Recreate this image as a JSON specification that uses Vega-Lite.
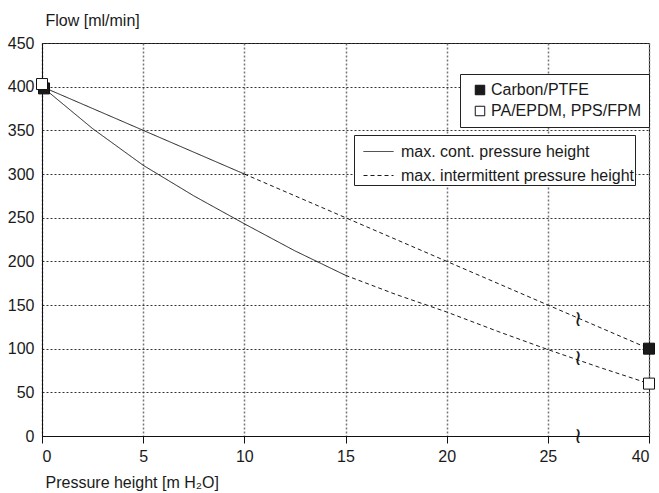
{
  "$schema": "https://vega.github.io/schema/vega-lite/v6.json",
  "width": 607,
  "height": 393,
  "autosize": {"type": "none"},
  "padding": {"left": 42, "top": 43, "right": 10, "bottom": 57},
  "background": "white",
  "config": {
    "view": {"stroke": "#111", "strokeWidth": 1},
    "font": "Liberation Sans",
    "text": {"font": "Liberation Sans"},
    "axis": {"labelFont": "Liberation Sans", "titleFont": "Liberation Sans", "labelColor": "#1a1a1a", "titleColor": "#1a1a1a", "titleFontWeight": "normal"},
    "legend": {"labelFont": "Liberation Sans", "labelColor": "#1a1a1a", "labelLimit": 0}
  },
  "layer": [
    {
      "mark": {"type": "rule", "color": "#8c8c8c", "strokeWidth": 2},
      "encoding": {"x": {"datum": 30, "type": "quantitative"}}
    },
    {
      "data": {"values": [
        {"series": "Carbon/PTFE", "style": "max. cont. pressure height", "x": 0, "y": 400},
        {"series": "Carbon/PTFE", "style": "max. cont. pressure height", "x": 10, "y": 300},
        {"series": "Carbon/PTFE", "style": "max. intermittent pressure height", "x": 10, "y": 300},
        {"series": "Carbon/PTFE", "style": "max. intermittent pressure height", "x": 20, "y": 200},
        {"series": "Carbon/PTFE", "style": "max. intermittent pressure height", "x": 30, "y": 100},
        {"series": "PA/EPDM, PPS/FPM", "style": "max. cont. pressure height", "x": 0, "y": 400},
        {"series": "PA/EPDM, PPS/FPM", "style": "max. cont. pressure height", "x": 2.5, "y": 352},
        {"series": "PA/EPDM, PPS/FPM", "style": "max. cont. pressure height", "x": 5, "y": 310},
        {"series": "PA/EPDM, PPS/FPM", "style": "max. cont. pressure height", "x": 7.5, "y": 275},
        {"series": "PA/EPDM, PPS/FPM", "style": "max. cont. pressure height", "x": 10, "y": 243},
        {"series": "PA/EPDM, PPS/FPM", "style": "max. cont. pressure height", "x": 12.5, "y": 212},
        {"series": "PA/EPDM, PPS/FPM", "style": "max. cont. pressure height", "x": 15, "y": 184},
        {"series": "PA/EPDM, PPS/FPM", "style": "max. intermittent pressure height", "x": 15, "y": 184},
        {"series": "PA/EPDM, PPS/FPM", "style": "max. intermittent pressure height", "x": 17.5, "y": 162},
        {"series": "PA/EPDM, PPS/FPM", "style": "max. intermittent pressure height", "x": 20, "y": 142},
        {"series": "PA/EPDM, PPS/FPM", "style": "max. intermittent pressure height", "x": 22.5, "y": 120},
        {"series": "PA/EPDM, PPS/FPM", "style": "max. intermittent pressure height", "x": 25, "y": 99},
        {"series": "PA/EPDM, PPS/FPM", "style": "max. intermittent pressure height", "x": 27.5, "y": 79},
        {"series": "PA/EPDM, PPS/FPM", "style": "max. intermittent pressure height", "x": 30, "y": 60}
      ]},
      "mark": {"type": "line", "color": "#1a1a1a", "strokeWidth": 1},
      "encoding": {
        "x": {
          "field": "x", "type": "quantitative",
          "scale": {"domain": [0, 30], "nice": false, "zero": false},
          "axis": {
            "values": [0, 5, 10, 15, 20, 25, 30],
            "labelExpr": "datum.value == 30 ? '40' : datum.label",
            "title": "Pressure height [m H₂O]",
            "titleAnchor": "start", "titleAlign": "left", "titleX": 3, "titleY": 51, "titleBaseline": "alphabetic",
            "titleFontSize": 16,
            "labelFontSize": 16, "labelPadding": 5,
            "tickSize": 7, "tickColor": "#111", "domainColor": "#111",
            "grid": true, "gridDash": [2, 2], "gridColor": "#777", "gridWidth": 1.5
          }
        },
        "y": {
          "field": "y", "type": "quantitative",
          "scale": {"domain": [0, 450], "nice": false},
          "axis": {
            "values": [0, 50, 100, 150, 200, 250, 300, 350, 400, 450],
            "title": "Flow [ml/min]",
            "titleAngle": 0, "titleAnchor": "start", "titleAlign": "left", "titleX": 3, "titleY": -18, "titleBaseline": "alphabetic",
            "titleFontSize": 16,
            "labelFontSize": 16, "labelPadding": 8,
            "ticks": false, "domainColor": "#111",
            "grid": true, "gridDash": [2, 2], "gridColor": "#333", "gridWidth": 1
          }
        },
        "detail": {"field": "series"},
        "strokeDash": {
          "field": "style", "type": "nominal",
          "scale": {"domain": ["max. cont. pressure height", "max. intermittent pressure height"], "range": [[1, 0], [4, 3]]},
          "legend": {
            "title": null, "orient": "none", "legendX": 312, "legendY": 92,
            "fillColor": "white", "strokeColor": "#222", "padding": 1,
            "symbolType": "stroke", "symbolSize": 900, "symbolStrokeColor": "#1a1a1a", "symbolStrokeWidth": 1, "symbolOffset": 8,
            "labelFontSize": 16, "labelOffset": 7, "rowPadding": -2
          }
        }
      }
    },
    {
      "data": {"values": [
        {"x": 26.5, "y": 134},
        {"x": 26.5, "y": 89},
        {"x": 26.5, "y": 0}
      ]},
      "mark": {"type": "text", "text": "≀", "font": "DejaVu Sans", "fontSize": 22, "color": "#1a1a1a", "align": "center", "baseline": "middle"},
      "encoding": {
        "x": {"field": "x", "type": "quantitative"},
        "y": {"field": "y", "type": "quantitative"}
      }
    },
    {
      "data": {"values": [
        {"material": "Carbon/PTFE", "x": 0.1, "y": 398},
        {"material": "PA/EPDM, PPS/FPM", "x": 0, "y": 403},
        {"material": "Carbon/PTFE", "x": 30, "y": 100},
        {"material": "PA/EPDM, PPS/FPM", "x": 30, "y": 60}
      ]},
      "mark": {"type": "point", "shape": "square", "filled": true, "size": 121, "stroke": "#111", "strokeWidth": 1, "opacity": 1},
      "encoding": {
        "x": {"field": "x", "type": "quantitative"},
        "y": {"field": "y", "type": "quantitative"},
        "fill": {
          "field": "material", "type": "nominal",
          "scale": {"domain": ["Carbon/PTFE", "PA/EPDM, PPS/FPM"], "range": ["#1a1a1a", "#ffffff"]},
          "legend": {
            "title": null, "orient": "none", "legendX": 418, "legendY": 31,
            "fillColor": "white", "strokeColor": "#222", "padding": 8,
            "symbolType": "square", "symbolSize": 90, "symbolStrokeColor": "#111", "symbolStrokeWidth": 1, "symbolOffset": 4,
            "labelFontSize": 16, "labelOffset": 3, "rowPadding": 5
          }
        }
      }
    }
  ]
}
